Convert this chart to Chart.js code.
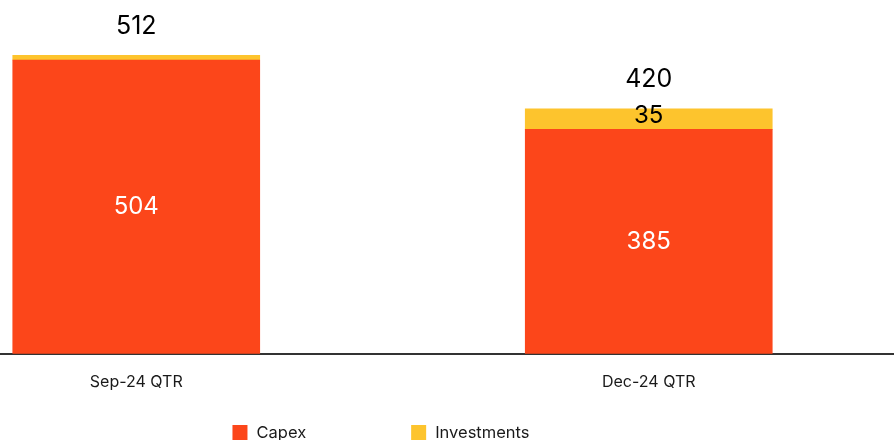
<!DOCTYPE html>
<html>
<head>
<meta charset="utf-8">
<script src="https://cdn.jsdelivr.net/npm/chart.js@4.4.1/dist/chart.umd.min.js"></script>
<style>
  html, body { margin: 0; padding: 0; background: #ffffff; }
  #wrap { position: relative; width: 894px; height: 440px; overflow: hidden; }
  #c { position: absolute; left: -143px; top: 0; }
</style>
</head>
<body>
<div id="wrap"><canvas id="c" width="1048" height="440"></canvas></div>
<script>
const categories = ['Sep-24 QTR', 'Dec-24 QTR'];
const capexValues = [504, 385];
const investmentValues = [8, 35];
const totalLabels = [512, 420];
const seriesNames = ['Capex', 'Investments'];
const seriesColors = ['#FC461A', '#FDC42D'];

const FONT = 'Inter, "Noto Sans", sans-serif';

const valueLabels = {
  id: 'valueLabels',
  afterDatasetsDraw(chart) {
    const ctx = chart.ctx;
    ctx.save();
    ctx.textAlign = 'center';
    ctx.textBaseline = 'middle';
    ctx.font = '24px ' + FONT;
    chart.data.datasets.forEach((ds, di) => {
      const meta = chart.getDatasetMeta(di);
      meta.data.forEach((bar, i) => {
        const h = Math.abs(bar.base - bar.y);
        if (h < 16) return;
        ctx.fillStyle = di === 0 ? '#ffffff' : '#000000';
        ctx.fillText(String(ds.data[i]), bar.x, (bar.y + bar.base) / 2 - (di === 1 ? 3 : 0));
      });
    });
    const last = chart.getDatasetMeta(chart.data.datasets.length - 1);
    ctx.fillStyle = '#000000';
    ctx.font = '25px ' + FONT;
    last.data.forEach((bar, i) => {
      ctx.fillText(String(totalLabels[i]), bar.x, bar.y - 29);
    });
    ctx.restore();
  }
};

const customLegend = {
  id: 'customLegend',
  afterDraw(chart) {
    const ctx = chart.ctx;
    const box = 15, gapText = 9, gapItem = 105;
    ctx.save();
    ctx.font = '16.5px ' + FONT;
    ctx.textBaseline = 'middle';
    ctx.textAlign = 'left';
    const items = chart.data.datasets.map(ds => ({ text: ds.label, color: ds.backgroundColor, w: box + gapText + ctx.measureText(ds.label).width }));
    const total = items.reduce((s, it) => s + it.w, 0) + gapItem * (items.length - 1);
    let x = chart.width / 2 - total / 2;
    const y = 425;
    items.forEach(it => {
      ctx.fillStyle = it.color;
      ctx.fillRect(x, y, box, box);
      ctx.fillStyle = '#1a1a1a';
      ctx.fillText(it.text, x + box + gapText, y + box / 2 + 1);
      x += it.w + gapItem;
    });
    ctx.restore();
  }
};

new Chart(document.getElementById('c'), {
  type: 'bar',
  data: {
    labels: categories,
    datasets: [
      { label: seriesNames[0], data: capexValues, backgroundColor: seriesColors[0], barThickness: 247 },
      { label: seriesNames[1], data: investmentValues, backgroundColor: seriesColors[1], barThickness: 247 }
    ]
  },
  options: {
    responsive: false,
    animation: false,
    devicePixelRatio: 1,
    layout: { padding: { top: 4, bottom: 29, left: 0, right: 0 } },
    plugins: {
      legend: { display: false },
      tooltip: { enabled: false }
    },
    scales: {
      x: {
        stacked: true,
        grid: { display: false, drawTicks: false },
        border: { display: true, color: '#333333', width: 2 },
        ticks: { color: '#1a1a1a', padding: 19, font: { family: FONT, size: 16 } }
      },
      y: {
        stacked: true,
        min: 0,
        max: 600,
        display: true,
        grid: { display: false, drawTicks: false },
        border: { display: false },
        ticks: { display: false },
        afterFit(scale) { scale.width = 23; }
      }
    }
  },
  plugins: [valueLabels, customLegend]
});
</script>
</body>
</html>
